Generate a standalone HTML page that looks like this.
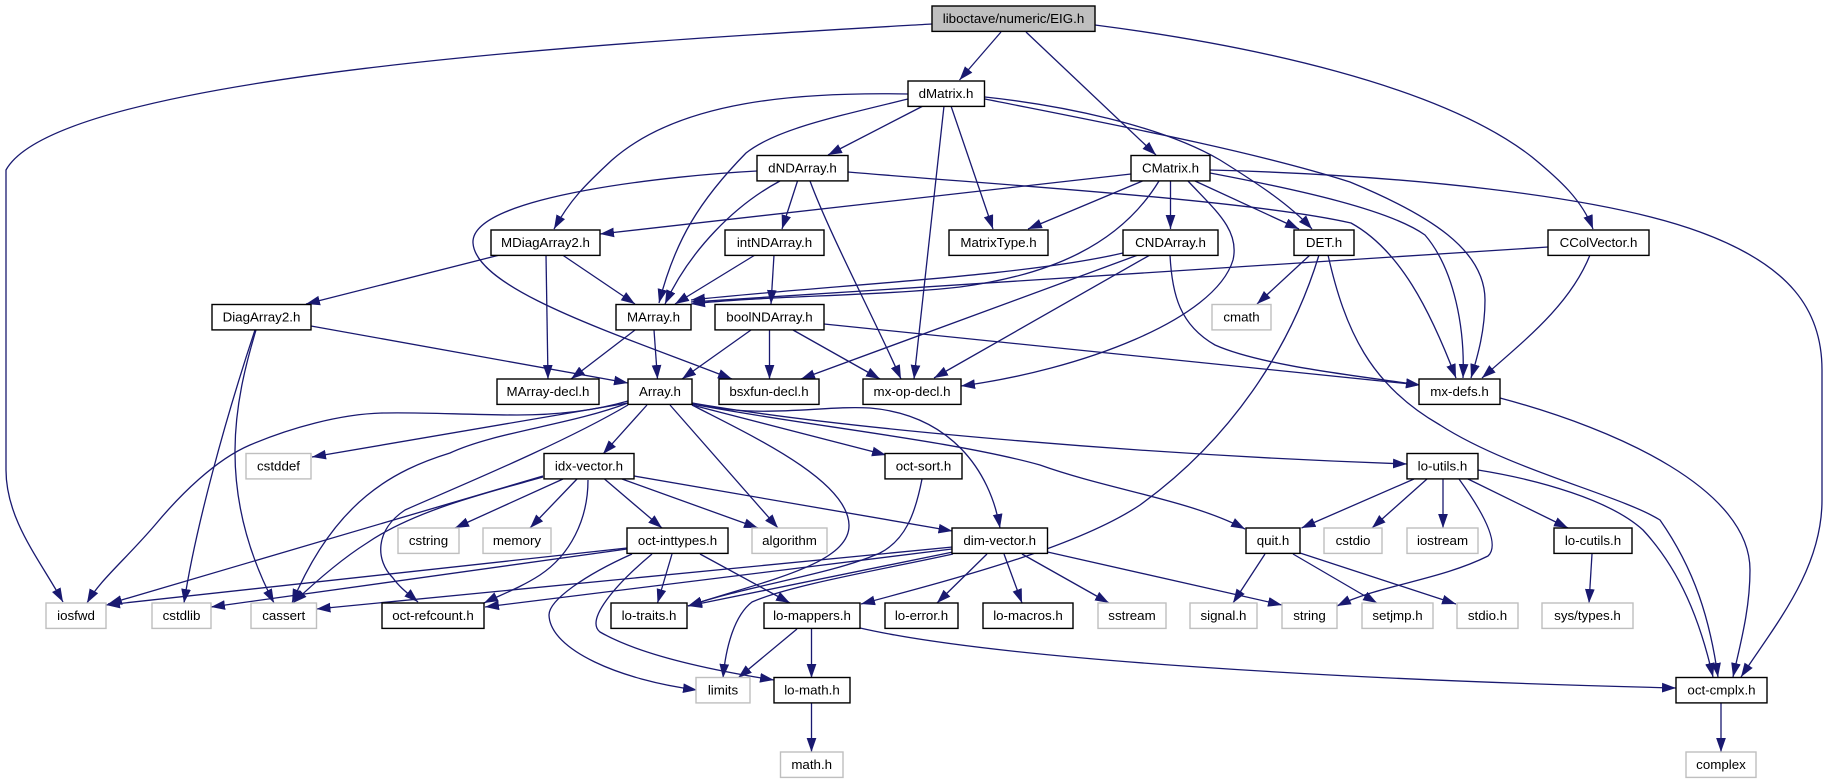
<!DOCTYPE html>
<html><head><meta charset="utf-8"><style>
html,body{margin:0;padding:0;background:#fff;width:1828px;height:784px;overflow:hidden}
svg{display:block}
.e path{fill:none;stroke:#191970;stroke-width:1.3;marker-end:url(#a)}
.n rect{fill:#fff;stroke:#000;stroke-width:1.4}
.g rect{fill:#fff;stroke:#bfbfbf;stroke-width:1.4}
text{font-family:"Liberation Sans",sans-serif;font-size:13.33px;text-anchor:middle;fill:#000}
</style></head><body>
<svg width="1828" height="784" viewBox="0 0 1828 784" xmlns="http://www.w3.org/2000/svg">
<defs><marker id="a" markerUnits="userSpaceOnUse" markerWidth="14" markerHeight="10" viewBox="0 0 13.5 9.4" refX="13.5" refY="4.7" orient="auto"><polygon points="0,0 13.5,4.7 0,9.4" fill="#191970"/></marker></defs>
<g class="e">
<path d="M932,24C640,41 60,72 6,170L6,470C6,520 40,560 63,602"/>
<path d="M1001,32L959.5,80"/>
<path d="M1026,32L1156,155"/>
<path d="M1095,25C1250,45 1440,85 1532,157C1560,180 1582,200 1593,229"/>
<path d="M908,94C800,92 680,100 612,160C585,185 570,200 554,229"/>
<path d="M908,99C830,118 775,130 746,153C700,200 675,240 659,303"/>
<path d="M923,106L828,155"/>
<path d="M944,106L914,379"/>
<path d="M951,106L993,229"/>
<path d="M985,97C1060,105 1160,125 1220,160C1260,185 1290,205 1312,229"/>
<path d="M985,99C1100,122 1250,150 1350,182C1430,215 1485,250 1485,300C1485,330 1478,355 1471,378"/>
<path d="M757,171C680,175 470,195 473,243C476,290 620,335 732,379"/>
<path d="M780,181C735,205 690,250 665,304"/>
<path d="M797.5,181L782,229"/>
<path d="M810,181C830,235 875,320 901,379"/>
<path d="M848,172C1000,185 1250,200 1351,223C1400,250 1430,310 1456,378"/>
<path d="M1131,174L600,234"/>
<path d="M1142.5,181L1028,229"/>
<path d="M1159,181C1120,245 1050,275 960,287C880,296 760,296 691,304"/>
<path d="M1170.5,181L1170.5,229"/>
<path d="M1195,181L1299,229"/>
<path d="M1188,181C1215,210 1240,230 1233,260C1215,320 1080,370 961,386"/>
<path d="M1210,173C1300,190 1390,210 1425,235C1455,270 1465,330 1463,378"/>
<path d="M1210,170C1400,175 1600,195 1700,232C1790,265 1822,310 1822,370L1822,500C1822,570 1775,625 1741,677"/>
<path d="M1123,253C1020,277 830,285 691,300"/>
<path d="M1138,255L801,379"/>
<path d="M1150,255L934,378"/>
<path d="M1170,255C1172,295 1180,325 1215,345C1260,365 1350,375 1420,385"/>
<path d="M1310,255L1257,304"/>
<path d="M1319,255C1290,350 1230,440 1140,505C1080,545 970,575 861,604"/>
<path d="M1328,255C1345,330 1370,385 1440,425C1510,470 1620,495 1660,520C1695,570 1710,620 1718,677"/>
<path d="M1548,247L691,302"/>
<path d="M1590,255C1570,305 1525,340 1482,378"/>
<path d="M499.6,255L306,304"/>
<path d="M546,255L548,379"/>
<path d="M562.5,255L635,304"/>
<path d="M755,255L675,304"/>
<path d="M774,255L771,304"/>
<path d="M311,326L628,383"/>
<path d="M255,330C225,420 195,530 184,603"/>
<path d="M256,330C235,400 215,490 274,603"/>
<path d="M635,330L571,379"/>
<path d="M654,330L657.5,379"/>
<path d="M751,330L682,379"/>
<path d="M769.5,330L769.5,379"/>
<path d="M793,330L880,379"/>
<path d="M824,324L1420,385"/>
<path d="M628,401C590,412 550,415 517,415C470,415 420,412 383,413C340,414 290,428 250,445C215,460 180,495 155,525C125,560 100,580 87,603"/>
<path d="M628,403L312,457"/>
<path d="M628,403C570,425 495,432 450,453C395,470 335,500 292,603"/>
<path d="M628,405C560,445 450,490 405,510C375,530 375,560 393,578C400,588 410,595 418,602"/>
<path d="M647,405L603,454"/>
<path d="M670,405L778,528"/>
<path d="M692,405C750,435 848,480 849,525C850,565 760,582 688,606"/>
<path d="M692,405L886,455"/>
<path d="M692,403C760,420 820,405 870,408C950,415 990,470 1000,528"/>
<path d="M692,404C800,425 950,440 1040,465C1110,490 1190,500 1245,529"/>
<path d="M692,403C850,430 1150,455 1407,464"/>
<path d="M543,476L108,604"/>
<path d="M543,477C490,492 415,510 367,543C340,560 312,585 293,603"/>
<path d="M563,479L455,528"/>
<path d="M577,479L530,528"/>
<path d="M588,480C588,520 570,555 540,575C520,588 500,595 484,603"/>
<path d="M604.5,479L662,528"/>
<path d="M622,479L758,528"/>
<path d="M634,476L952.5,531"/>
<path d="M627,548L106,605"/>
<path d="M627,549L211,607"/>
<path d="M632,554C585,575 549,600 549,615C550,650 620,680 697,690"/>
<path d="M652,554C615,585 585,620 600,632C640,655 710,670 774,680"/>
<path d="M672,554L657.5,603"/>
<path d="M700,554L790,603"/>
<path d="M922,479C915,515 905,540 880,553C830,575 750,585 688,606"/>
<path d="M952.5,547L316.5,609"/>
<path d="M952,549L485,607"/>
<path d="M953,552L688,606"/>
<path d="M953,554C890,568 790,585 752,602C735,615 726,645 723,678"/>
<path d="M987,554L937,603"/>
<path d="M1004,554L1022,603"/>
<path d="M1022,554L1109,603"/>
<path d="M1047.5,552L1282,605"/>
<path d="M797,629L738,678"/>
<path d="M811.5,629L811.5,678"/>
<path d="M860,628C1000,660 1350,680 1676,688"/>
<path d="M811.5,703L811.5,752"/>
<path d="M1721,703L1721,752"/>
<path d="M1500,398C1620,430 1750,490 1750,570C1750,610 1740,645 1733,677"/>
<path d="M1414,479L1301.5,528"/>
<path d="M1427,479L1372,528"/>
<path d="M1443,479L1443,528"/>
<path d="M1459,479C1485,515 1500,545 1488,556C1440,580 1380,585 1337,606"/>
<path d="M1468,479L1568,528"/>
<path d="M1478,470C1540,480 1610,500 1643,530C1680,570 1700,620 1713,677"/>
<path d="M1265,554L1233,603"/>
<path d="M1293,554L1377,603"/>
<path d="M1300,553L1456,604"/>
<path d="M1592,554L1589,603"/>
</g>
<rect x="932" y="6" width="163" height="25.4" fill="#bfbfbf" stroke="#000" stroke-width="1.4"/><text x="1013.5" y="23">liboctave/numeric/EIG.h</text>
<g class="n">
<rect x="908" y="81" width="76.5" height="25.4"/><text x="946" y="98">dMatrix.h</text>
<rect x="757" y="155.5" width="91" height="25.4"/><text x="802.5" y="172.5">dNDArray.h</text>
<rect x="1131" y="155.5" width="79" height="25.4"/><text x="1170.5" y="172.5">CMatrix.h</text>
<rect x="491" y="230" width="109" height="25.4"/><text x="545.5" y="247">MDiagArray2.h</text>
<rect x="725" y="230" width="99" height="25.4"/><text x="774.5" y="247">intNDArray.h</text>
<rect x="949" y="230" width="99" height="25.4"/><text x="998.5" y="247">MatrixType.h</text>
<rect x="1123" y="230" width="95" height="25.4"/><text x="1170.5" y="247">CNDArray.h</text>
<rect x="1294" y="230" width="60" height="25.4"/><text x="1324" y="247">DET.h</text>
<rect x="1548" y="230" width="101" height="25.4"/><text x="1598.5" y="247">CColVector.h</text>
<rect x="212" y="304.5" width="99" height="25.4"/><text x="261.5" y="321.5">DiagArray2.h</text>
<rect x="616" y="304.5" width="75" height="25.4"/><text x="653.5" y="321.5">MArray.h</text>
<rect x="715" y="304.5" width="109" height="25.4"/><text x="769.5" y="321.5">boolNDArray.h</text>
<rect x="497" y="379" width="102" height="25.4"/><text x="548" y="396">MArray-decl.h</text>
<rect x="628" y="379" width="64" height="25.4"/><text x="660" y="396">Array.h</text>
<rect x="719" y="379" width="100" height="25.4"/><text x="769" y="396">bsxfun-decl.h</text>
<rect x="863" y="379" width="98" height="25.4"/><text x="912" y="396">mx-op-decl.h</text>
<rect x="1419" y="379" width="81" height="25.4"/><text x="1459.5" y="396">mx-defs.h</text>
<rect x="544" y="453.5" width="90" height="25.4"/><text x="589" y="470.5">idx-vector.h</text>
<rect x="885" y="453.5" width="77" height="25.4"/><text x="923.5" y="470.5">oct-sort.h</text>
<rect x="1407" y="453.5" width="71" height="25.4"/><text x="1442.5" y="470.5">lo-utils.h</text>
<rect x="627" y="528" width="101" height="25.4"/><text x="677.5" y="545">oct-inttypes.h</text>
<rect x="952" y="528" width="95.5" height="25.4"/><text x="999.7" y="545">dim-vector.h</text>
<rect x="1246" y="528" width="54" height="25.4"/><text x="1273" y="545">quit.h</text>
<rect x="1554" y="528" width="78" height="25.4"/><text x="1593" y="545">lo-cutils.h</text>
<rect x="382" y="603" width="102" height="25.4"/><text x="433" y="620">oct-refcount.h</text>
<rect x="611" y="603" width="76" height="25.4"/><text x="649" y="620">lo-traits.h</text>
<rect x="764" y="603" width="96" height="25.4"/><text x="812" y="620">lo-mappers.h</text>
<rect x="885" y="603" width="73" height="25.4"/><text x="921.5" y="620">lo-error.h</text>
<rect x="983" y="603" width="90" height="25.4"/><text x="1028" y="620">lo-macros.h</text>
<rect x="774" y="677.5" width="76" height="25.4"/><text x="812" y="694.5">lo-math.h</text>
<rect x="1676" y="677.5" width="91" height="25.4"/><text x="1721.5" y="694.5">oct-cmplx.h</text>
</g>
<g class="g">
<rect x="1212" y="304.5" width="59" height="25.4"/><text x="1241.5" y="321.5" fill="#000">cmath</text>
<rect x="246" y="453.5" width="65" height="25.4"/><text x="278.5" y="470.5">cstddef</text>
<rect x="398" y="528" width="61" height="25.4"/><text x="428.5" y="545">cstring</text>
<rect x="483" y="528" width="68" height="25.4"/><text x="517" y="545">memory</text>
<rect x="752" y="528" width="75" height="25.4"/><text x="789.5" y="545">algorithm</text>
<rect x="1324" y="528" width="58" height="25.4"/><text x="1353" y="545">cstdio</text>
<rect x="1407" y="528" width="71" height="25.4"/><text x="1442.5" y="545">iostream</text>
<rect x="46" y="603" width="60" height="25.4"/><text x="76" y="620">iosfwd</text>
<rect x="152" y="603" width="59" height="25.4"/><text x="181.5" y="620">cstdlib</text>
<rect x="251" y="603" width="65.5" height="25.4"/><text x="283.7" y="620">cassert</text>
<rect x="1098" y="603" width="68" height="25.4"/><text x="1132" y="620">sstream</text>
<rect x="1190" y="603" width="67" height="25.4"/><text x="1223.5" y="620">signal.h</text>
<rect x="1282" y="603" width="55" height="25.4"/><text x="1309.5" y="620">string</text>
<rect x="1362" y="603" width="71" height="25.4"/><text x="1397.5" y="620">setjmp.h</text>
<rect x="1457" y="603" width="61" height="25.4"/><text x="1487.5" y="620">stdio.h</text>
<rect x="1542" y="603" width="91" height="25.4"/><text x="1587.5" y="620">sys/types.h</text>
<rect x="696" y="677.5" width="54" height="25.4"/><text x="723" y="694.5">limits</text>
<rect x="780.5" y="752" width="62.5" height="25.4"/><text x="811.7" y="769">math.h</text>
<rect x="1686" y="752" width="70" height="25.4"/><text x="1721" y="769">complex</text>
</g>
</svg>
</body></html>
